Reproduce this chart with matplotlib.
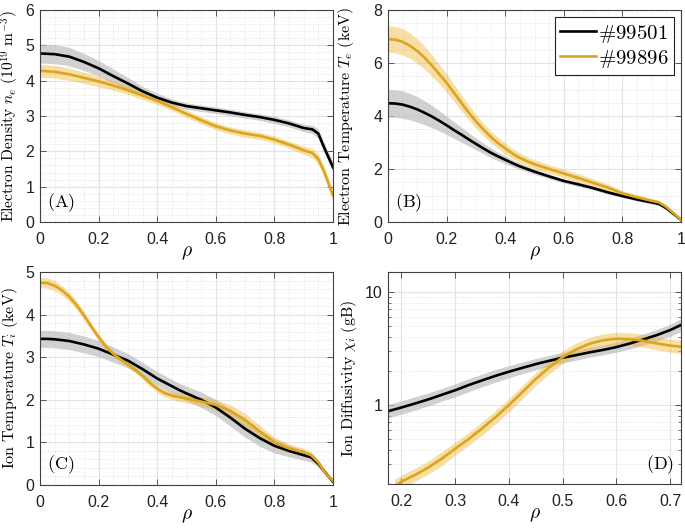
import matplotlib
matplotlib.use("Agg")
import matplotlib.pyplot as plt
import numpy as np
from matplotlib.ticker import MultipleLocator, FixedLocator, FuncFormatter, LogLocator, NullFormatter

plt.rcParams['mathtext.fontset'] = 'cm'
plt.rcParams['font.family'] = ['Liberation Sans', 'DejaVu Sans']

# ---------------- data ----------------
shots = ['#99501', '#99896']

rho = [0, 0.05, 0.1, 0.15, 0.2, 0.25, 0.3, 0.35, 0.4, 0.45, 0.5, 0.55, 0.6,
       0.65, 0.7, 0.75, 0.8, 0.85, 0.9, 0.93, 0.95, 0.97, 1.0]

# (A) electron density (1e19 m^-3)
ne_99501 = [4.77, 4.75, 4.68, 4.53, 4.35, 4.13, 3.92, 3.70, 3.52, 3.38, 3.28, 3.22, 3.16,
            3.10, 3.03, 2.97, 2.89, 2.79, 2.66, 2.62, 2.50, 2.10, 1.55]
ne_99501_err = [0.27, 0.27, 0.26, 0.24, 0.22, 0.20, 0.17, 0.14, 0.12, 0.10, 0.09, 0.09, 0.09,
                0.09, 0.09, 0.09, 0.10, 0.10, 0.10, 0.12, 0.13, 0.14, 0.15]
ne_99896 = [4.28, 4.25, 4.18, 4.08, 3.98, 3.86, 3.73, 3.58, 3.43, 3.25, 3.06, 2.88, 2.71,
            2.59, 2.50, 2.44, 2.33, 2.19, 2.03, 1.95, 1.78, 1.42, 0.75]
ne_99896_err = [0.18, 0.18, 0.17, 0.16, 0.15, 0.13, 0.12, 0.11, 0.10, 0.10, 0.10, 0.10, 0.10,
                0.10, 0.10, 0.10, 0.10, 0.10, 0.12, 0.13, 0.14, 0.15, 0.15]

# (B) / (C) finer radial grid
rho_f = [0, 0.025, 0.05, 0.075, 0.1, 0.125, 0.15, 0.175, 0.2, 0.225, 0.25, 0.275, 0.3,
         0.325, 0.35, 0.375, 0.4, 0.425, 0.45, 0.475, 0.5, 0.55, 0.6, 0.65, 0.7, 0.75,
         0.8, 0.85, 0.9, 0.925, 0.95, 0.975, 1.0]

# (B) electron temperature (keV)
te_99501 = [4.48, 4.47, 4.43, 4.35, 4.25, 4.12, 3.98, 3.82, 3.65, 3.47, 3.30, 3.12, 2.95,
            2.78, 2.62, 2.48, 2.35, 2.22, 2.10, 2.00, 1.90, 1.72, 1.55, 1.42, 1.28, 1.12,
            0.98, 0.85, 0.74, 0.68, 0.52, 0.30, 0.08]
te_99501_err = [0.52, 0.52, 0.52, 0.50, 0.48, 0.45, 0.42, 0.38, 0.35, 0.31, 0.28, 0.25, 0.22,
                0.20, 0.18, 0.16, 0.15, 0.13, 0.12, 0.11, 0.10, 0.09, 0.08, 0.08, 0.07, 0.07,
                0.06, 0.06, 0.06, 0.06, 0.05, 0.04, 0.03]
te_99896 = [6.90, 6.88, 6.80, 6.65, 6.45, 6.20, 5.90, 5.58, 5.25, 4.88, 4.50, 4.14, 3.80,
            3.50, 3.22, 2.98, 2.78, 2.58, 2.42, 2.29, 2.18, 2.00, 1.83, 1.66, 1.48, 1.30,
            1.08, 0.93, 0.80, 0.74, 0.57, 0.33, 0.08]
te_99896_err = [0.50, 0.50, 0.50, 0.48, 0.46, 0.43, 0.40, 0.37, 0.35, 0.32, 0.30, 0.28, 0.26,
                0.24, 0.22, 0.21, 0.20, 0.19, 0.18, 0.17, 0.17, 0.16, 0.16, 0.16, 0.15, 0.13,
                0.11, 0.10, 0.09, 0.08, 0.07, 0.05, 0.04]

# (C) ion temperature (keV)
ti_99501 = [3.43, 3.43, 3.42, 3.40, 3.38, 3.34, 3.30, 3.25, 3.20, 3.13, 3.06, 2.99, 2.92,
            2.82, 2.72, 2.61, 2.50, 2.41, 2.32, 2.23, 2.15, 2.00, 1.82, 1.58, 1.32, 1.10,
            0.92, 0.80, 0.70, 0.65, 0.50, 0.28, 0.08]
ti_99501_err = [0.20, 0.20, 0.20, 0.20, 0.20, 0.20, 0.20, 0.19, 0.19, 0.18, 0.18, 0.17, 0.17,
                0.16, 0.16, 0.16, 0.16, 0.16, 0.16, 0.16, 0.17, 0.18, 0.19, 0.20, 0.20, 0.19,
                0.17, 0.14, 0.12, 0.11, 0.08, 0.06, 0.05]
ti_99896 = [4.75, 4.74, 4.68, 4.57, 4.42, 4.22, 3.98, 3.72, 3.47, 3.25, 3.08, 2.95, 2.83,
            2.70, 2.56, 2.40, 2.26, 2.16, 2.10, 2.06, 2.03, 1.96, 1.88, 1.74, 1.53, 1.26,
            1.00, 0.86, 0.77, 0.70, 0.53, 0.27, 0.10]
ti_99896_err = [0.12, 0.12, 0.12, 0.11, 0.11, 0.10, 0.10, 0.09, 0.08, 0.08, 0.07, 0.07, 0.07,
                0.07, 0.07, 0.08, 0.08, 0.09, 0.09, 0.10, 0.10, 0.11, 0.12, 0.14, 0.15, 0.14,
                0.12, 0.10, 0.09, 0.08, 0.07, 0.05, 0.04]

# (D) ion diffusivity (gB), log axis
rho_d = [0.175, 0.2, 0.225, 0.25, 0.275, 0.3, 0.325, 0.35, 0.375, 0.4, 0.425, 0.45, 0.475,
         0.5, 0.525, 0.55, 0.575, 0.6, 0.625, 0.65, 0.675, 0.7, 0.72]
chi_99501 = [0.88, 0.95, 1.03, 1.12, 1.23, 1.35, 1.50, 1.65, 1.81, 1.97, 2.13, 2.30, 2.46,
             2.62, 2.76, 2.92, 3.07, 3.25, 3.50, 3.80, 4.15, 4.60, 5.10]
chi_99501_lo = [0.77, 0.83, 0.90, 0.98, 1.08, 1.18, 1.31, 1.45, 1.59, 1.74, 1.89, 2.05, 2.20,
                2.36, 2.49, 2.64, 2.78, 2.93, 3.13, 3.38, 3.68, 4.06, 4.45]
chi_99501_hi = [1.01, 1.09, 1.18, 1.28, 1.40, 1.54, 1.71, 1.88, 2.06, 2.23, 2.40, 2.58, 2.75,
                2.91, 3.06, 3.23, 3.39, 3.60, 3.90, 4.25, 4.65, 5.18, 5.80]
rho_d2 = [0.187, 0.2, 0.225, 0.25, 0.275, 0.3, 0.325, 0.35, 0.375, 0.4, 0.425, 0.45, 0.475,
          0.5, 0.525, 0.55, 0.575, 0.6, 0.625, 0.65, 0.675, 0.7, 0.72]
chi_99896 = [0.19, 0.21, 0.24, 0.28, 0.335, 0.41, 0.50, 0.62, 0.78, 1.00, 1.30, 1.70, 2.15,
             2.65, 3.10, 3.48, 3.74, 3.85, 3.82, 3.70, 3.50, 3.35, 3.27]
chi_99896_lo = [0.165, 0.18, 0.21, 0.245, 0.29, 0.36, 0.44, 0.54, 0.68, 0.87, 1.13, 1.49, 1.89,
                2.33, 2.72, 3.06, 3.28, 3.38, 3.35, 3.24, 3.07, 2.93, 2.86]
chi_99896_hi = [0.22, 0.24, 0.275, 0.32, 0.385, 0.47, 0.57, 0.71, 0.89, 1.14, 1.49, 1.94, 2.45,
                3.02, 3.53, 3.96, 4.26, 4.39, 4.35, 4.22, 3.99, 3.82, 3.74]

# ---------------- style ----------------
C_BLACK = '#000000'
C_GOLD = '#DBA520'
F_GRAY = '#BEBEBE'
F_GOLD = '#EDB120'
AX_COL = '#404040'
TICK_FS = 11.5
LAB_FS = 11.5

fig = plt.figure(figsize=(6.85, 5.28), dpi=100)
W, H = 685.0, 528.0

def add_ax(l, t, r, b):
    return fig.add_axes([l / W, 1 - b / H, (r - l) / W, (b - t) / H])

axA = add_ax(40, 10, 333, 222)
axB = add_ax(388, 10, 681, 222)
axC = add_ax(40, 272, 333, 485)
axD = add_ax(388, 272, 681, 484)

fmt = FuncFormatter(lambda v, p: ('%g' % round(v, 6)))

def style(ax, log=False):
    for s in ax.spines.values():
        s.set_color(AX_COL)
        s.set_linewidth(0.8)
    ax.tick_params(which='major', direction='in', top=True, right=True, length=4,
                   width=0.6, color=AX_COL, labelsize=TICK_FS, labelcolor='#222222')
    ax.tick_params(axis='x', which='major', pad=7)
    ax.tick_params(axis='y', which='major', pad=4)
    if log:
        ax.tick_params(which='minor', direction='in', top=False, right=True, length=2,
                       width=0.5, color=AX_COL)
        ax.tick_params(axis='x', which='minor', length=0)
    else:
        ax.tick_params(which='minor', length=0)
    ax.grid(True, which='major', color='#E3E3E3', linewidth=0.8, linestyle='-')
    ax.grid(True, which='minor', color='#D8D8D8', linewidth=0.6, linestyle=(0, (1, 2)))
    ax.set_axisbelow(True)

def draw(ax, x, y, err, color, fcolor, alpha, label=None):
    y = np.asarray(y); err = np.asarray(err)
    ax.fill_between(x, y - err, y + err, color=fcolor, alpha=alpha, linewidth=0)
    ax.plot(x, y, color=color, linewidth=1.9, label=label, solid_joinstyle='round')

# (A)
draw(axA, rho, ne_99501, ne_99501_err, C_BLACK, F_GRAY, 0.7)
draw(axA, rho, ne_99896, ne_99896_err, C_GOLD, F_GOLD, 0.4)
axA.set_xlim(0, 1); axA.set_ylim(0, 6)
axA.xaxis.set_major_locator(MultipleLocator(0.2)); axA.xaxis.set_minor_locator(MultipleLocator(0.05))
axA.yaxis.set_major_locator(MultipleLocator(1)); axA.yaxis.set_minor_locator(MultipleLocator(0.2))
axA.set_ylabel(r'$\mathrm{Electron\ Density}\ n_e\ (10^{19}\ \mathrm{m}^{-3})$', fontsize=11.2)
axA.text(0.025, 0.04, r'$\mathrm{(A)}$', transform=axA.transAxes, fontsize=13, ha='left', va='bottom')

# (B)
draw(axB, rho_f, te_99501, te_99501_err, C_BLACK, F_GRAY, 0.7, label=r'$\#99501$')
draw(axB, rho_f, te_99896, te_99896_err, C_GOLD, F_GOLD, 0.4, label=r'$\#99896$')
axB.set_xlim(0, 1); axB.set_ylim(0, 8)
axB.xaxis.set_major_locator(MultipleLocator(0.2)); axB.xaxis.set_minor_locator(MultipleLocator(0.05))
axB.yaxis.set_major_locator(MultipleLocator(2)); axB.yaxis.set_minor_locator(MultipleLocator(0.5))
axB.set_ylabel(r'$\mathrm{Electron\ Temperature}\ T_e\ (\mathrm{keV})$', fontsize=LAB_FS)
axB.text(0.025, 0.04, r'$\mathrm{(B)}$', transform=axB.transAxes, fontsize=13, ha='left', va='bottom')
leg = axB.legend(loc='upper right', fontsize=15, frameon=True, fancybox=False,
                 handlelength=1.7, handletextpad=0.1, labelspacing=0.15,
                 borderpad=0.25, borderaxespad=0.35)
leg.get_frame().set_edgecolor('#222222')
leg.get_frame().set_linewidth(0.8)
leg.get_frame().set_alpha(1)

# (C)
draw(axC, rho_f, ti_99501, ti_99501_err, C_BLACK, F_GRAY, 0.7)
draw(axC, rho_f, ti_99896, ti_99896_err, C_GOLD, F_GOLD, 0.4)
axC.set_xlim(0, 1); axC.set_ylim(0, 5)
axC.xaxis.set_major_locator(MultipleLocator(0.2)); axC.xaxis.set_minor_locator(MultipleLocator(0.05))
axC.yaxis.set_major_locator(MultipleLocator(1)); axC.yaxis.set_minor_locator(MultipleLocator(0.2))
axC.set_ylabel(r'$\mathrm{Ion\ Temperature}\ T_i\ (\mathrm{keV})$', fontsize=LAB_FS)
axC.text(0.025, 0.04, r'$\mathrm{(C)}$', transform=axC.transAxes, fontsize=13, ha='left', va='bottom')

# (D)
axD.set_yscale('log')
axD.fill_between(rho_d, chi_99501_lo, chi_99501_hi, color=F_GRAY, alpha=0.7, linewidth=0)
axD.plot(rho_d, chi_99501, color=C_BLACK, linewidth=1.9)
axD.fill_between(rho_d2, chi_99896_lo, chi_99896_hi, color=F_GOLD, alpha=0.4, linewidth=0)
axD.plot(rho_d2, chi_99896, color=C_GOLD, linewidth=1.9)
axD.set_xlim(0.175, 0.72); axD.set_ylim(0.2, 15)
axD.xaxis.set_major_locator(MultipleLocator(0.1))
axD.yaxis.set_major_locator(FixedLocator([1, 10]))
axD.yaxis.set_minor_locator(LogLocator(base=10, subs=np.arange(2, 10)))
axD.yaxis.set_minor_formatter(NullFormatter())
axD.set_ylabel(r'$\mathrm{Ion\ Diffusivity}\ \chi_i\ (\mathrm{gB})$', fontsize=LAB_FS)
axD.text(0.975, 0.04, r'$\mathrm{(D)}$', transform=axD.transAxes, fontsize=13, ha='right', va='bottom')

for ax in (axA, axB, axC, axD):
    style(ax, log=(ax is axD))
    ax.xaxis.set_major_formatter(fmt)
    if ax is not axD:
        ax.yaxis.set_major_formatter(fmt)
    else:
        ax.yaxis.set_major_formatter(FuncFormatter(lambda v, p: '%g' % v))
    ax.set_xlabel(r'$\rho$', fontsize=14)
    ax.xaxis.set_label_coords(0.5, -0.105)

axA.yaxis.set_label_coords(-0.064, 0.5)
axC.yaxis.set_label_coords(-0.068, 0.5)
axB.yaxis.set_label_coords(-0.108, 0.5)
axD.yaxis.set_label_coords(-0.10, 0.5)

fig.savefig('out.png', dpi=100)
